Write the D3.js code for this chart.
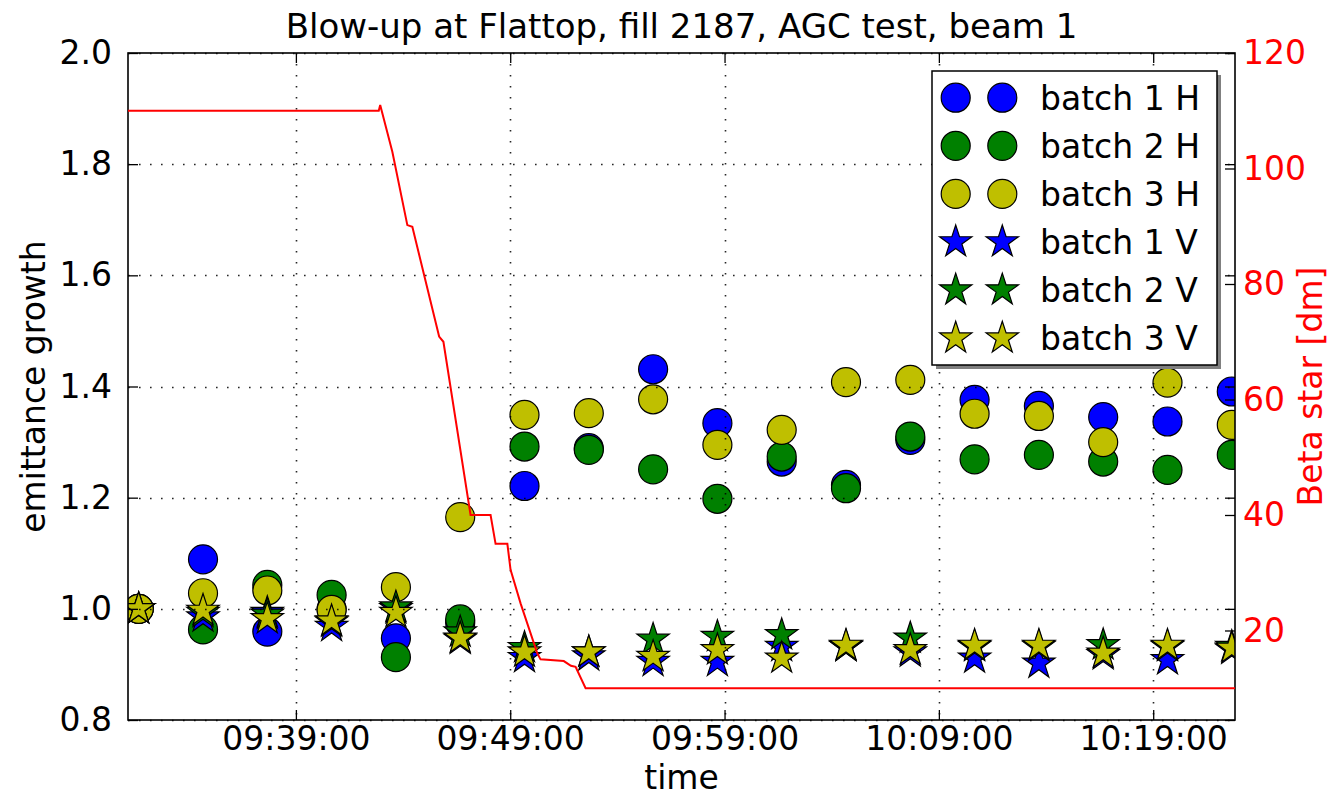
<!DOCTYPE html>
<html>
<head>
<meta charset="utf-8">
<script src="https://cdn.jsdelivr.net/npm/d3@7"></script>
<style>
  body { margin: 0; background: #fff; }
  svg { display: block; }
  text { font-family: "DejaVu Sans", sans-serif; }
</style>
</head>
<body>
<svg id="chart" width="1331" height="797"></svg>
<script>
// ---- data -------------------------------------------------------------
const sampleTimes = ["09:31:40", "09:34:40", "09:37:40", "09:40:40", "09:43:40", "09:46:40",
  "09:49:40", "09:52:40", "09:55:40", "09:58:40", "10:01:40", "10:04:40",
  "10:07:40", "10:10:40", "10:13:40", "10:16:40", "10:19:40", "10:22:40"];

const batch1H = [1.000, 1.089, 0.959, 1.000, 0.947, 0.975, 1.221, 1.289, 1.431, 1.334, 1.265, 1.223, 1.304, 1.376, 1.365, 1.345, 1.337, 1.391];
const batch2H = [1.000, 0.963, 1.043, 1.025, 0.913, 0.981, 1.292, 1.286, 1.251, 1.198, 1.274, 1.217, 1.310, 1.269, 1.277, 1.265, 1.250, 1.277];
const batch3H = [1.000, 1.028, 1.033, 0.998, 1.039, 1.165, 1.349, 1.352, 1.377, 1.295, 1.322, 1.408, 1.412, 1.351, 1.347, 1.300, 1.407, 1.331];
const batch1V = [1.000, 0.985, 0.993, 0.968, 1.000, 0.945, 0.912, 0.915, 0.905, 0.905, 0.932, 0.932, 0.922, 0.911, 0.902, 0.917, 0.908, 0.927];
const batch2V = [1.000, 0.993, 0.990, 0.976, 1.003, 0.958, 0.930, 0.922, 0.945, 0.950, 0.953, 0.932, 0.947, 0.932, 0.932, 0.935, 0.932, 0.932];
const batch3V = [1.000, 0.997, 0.982, 0.978, 0.993, 0.947, 0.922, 0.922, 0.914, 0.926, 0.911, 0.934, 0.926, 0.934, 0.934, 0.920, 0.934, 0.929];

const seriesNames = ["batch 1 H", "batch 2 H", "batch 3 H", "batch 1 V", "batch 2 V", "batch 3 V"];

// beta* during the squeeze, in dm
const betaTimes = ["09:31:10", "09:42:52", "09:42:56", "09:43:30", "09:44:12", "09:44:26",
  "09:45:41", "09:45:53", "09:47:09", "09:48:05", "09:48:19", "09:48:52", "09:49:01",
  "09:49:29", "09:50:16", "09:50:25", "09:51:30", "09:51:50", "09:52:03", "09:52:31", "10:22:49"];
const betaStar = [110, 110, 111, 102.9, 90.2, 89.9, 70.9, 70, 40, 40, 35, 35, 30.5,
  24.7, 16, 15, 14.7, 13.9, 13.7, 10, 10];

const timeTicks = ["09:39:00", "09:49:00", "09:59:00", "10:09:00", "10:19:00"];
const emitTicks = [0.8, 1.0, 1.2, 1.4, 1.6, 1.8, 2.0];
const betaTicks = [20, 40, 60, 80, 100, 120];

// ---- layout -----------------------------------------------------------
const plot = { left: 128, right: 1235, top: 53, bottom: 720 };
const FONT = 33;

const parseT = d3.utcParse("%H:%M:%S");
const fmtT = d3.utcFormat("%H:%M:%S");

const svg = d3.select("#chart");

const x = d3.scaleUtc()
  .domain(d3.extent(betaTimes, parseT))
  .range([plot.left, plot.right]);
const y = d3.scaleLinear().domain([0.8, 2.0]).range([plot.bottom, plot.top]);
const y2 = d3.scaleLinear().domain([4.5, 120]).range([plot.bottom, plot.top]);

svg.append("defs").append("clipPath").attr("id", "plotClip")
  .append("rect")
  .attr("x", plot.left).attr("y", plot.top)
  .attr("width", plot.right - plot.left).attr("height", plot.bottom - plot.top);

// five-pointed star marker with outer radius R (inner ratio as the classic '*' marker)
function starPath(R) {
  const inner = R * 0.381966;
  const pts = [];
  for (let i = 0; i < 10; i++) {
    const r = i % 2 === 0 ? R : inner;
    const a = -Math.PI / 2 + i * Math.PI / 5;
    pts.push([r * Math.cos(a), r * Math.sin(a)]);
  }
  return "M" + pts.map(p => p[0].toFixed(2) + "," + p[1].toFixed(2)).join("L") + "Z";
}

const blue = "#0000ff", green = "#008000", yellow = "#bfbf00";
const series = [
  { name: seriesNames[0], values: batch1H, color: blue, shape: "circle" },
  { name: seriesNames[1], values: batch2H, color: green, shape: "circle" },
  { name: seriesNames[2], values: batch3H, color: yellow, shape: "circle" },
  { name: seriesNames[3], values: batch1V, color: blue, shape: "star" },
  { name: seriesNames[4], values: batch2V, color: green, shape: "star" },
  { name: seriesNames[5], values: batch3V, color: yellow, shape: "star" }
];
const CIRCLE_R = 14.5, STAR_R = 17;
const star = starPath(STAR_R);

function drawMarker(g, shape, color, cx, cy) {
  if (shape === "circle") {
    g.append("circle").attr("cx", cx).attr("cy", cy).attr("r", CIRCLE_R)
      .attr("fill", color).attr("stroke", "#000").attr("stroke-width", 1.2);
  } else {
    g.append("path").attr("d", star).attr("transform", `translate(${cx},${cy})`)
      .attr("fill", color).attr("stroke", "#000").attr("stroke-width", 1.2)
      .attr("stroke-linejoin", "miter");
  }
}

// ---- emittance markers ------------------------------------------------
const marks = svg.append("g").attr("clip-path", "url(#plotClip)");
series.forEach(s => {
  const g = marks.append("g");
  s.values.forEach((v, i) => drawMarker(g, s.shape, s.color, x(parseT(sampleTimes[i])), y(v)));
});

// ---- grid (drawn above the markers) -----------------------------------
const grid = svg.append("g").attr("stroke", "#000").attr("stroke-opacity", 0.85)
  .attr("stroke-width", 1.6).attr("stroke-dasharray", "1.6,9.4");
timeTicks.forEach(t => {
  const xx = Math.round(x(parseT(t))) + 0.5;
  grid.append("line").attr("x1", xx).attr("x2", xx).attr("y1", plot.top).attr("y2", plot.bottom);
});
emitTicks.forEach(v => {
  const yy = Math.round(y(v)) + 0.5;
  grid.append("line").attr("x1", plot.left).attr("x2", plot.right).attr("y1", yy).attr("y2", yy);
});

// ---- axes -------------------------------------------------------------
const TICK = 10;
const axisBottom = d3.axisBottom(x).tickValues(timeTicks.map(parseT)).tickFormat(fmtT)
  .tickSizeInner(-TICK).tickSizeOuter(0).tickPadding(7);
const axisTop = d3.axisTop(x).tickValues(timeTicks.map(parseT)).tickFormat("")
  .tickSizeInner(-TICK).tickSizeOuter(0);
const axisLeft = d3.axisLeft(y).tickValues(emitTicks).tickFormat(d3.format(".1f"))
  .tickSizeInner(-TICK).tickSizeOuter(0).tickPadding(16);
const axisRightL = d3.axisRight(y).tickValues(emitTicks).tickFormat("")
  .tickSizeInner(-TICK).tickSizeOuter(0);
const axisRight = d3.axisRight(y2).tickValues(betaTicks).tickFormat(d3.format("d"))
  .tickSizeInner(-TICK).tickSizeOuter(0).tickPadding(8);

function styleAxis(g, color) {
  g.select(".domain").remove();
  g.selectAll(".tick line").attr("stroke", "#000").attr("stroke-width", 1.3);
  g.selectAll(".tick text").attr("font-size", FONT).attr("fill", color)
    .attr("font-family", "DejaVu Sans, sans-serif");
}

svg.append("g").attr("transform", `translate(0,${plot.bottom})`).call(axisBottom)
  .call(g => styleAxis(g, "#000"));
svg.append("g").attr("transform", `translate(0,${plot.top})`).call(axisTop)
  .call(g => styleAxis(g, "#000"));
svg.append("g").attr("transform", `translate(${plot.left},0)`).call(axisLeft)
  .call(g => styleAxis(g, "#000"));
svg.append("g").attr("transform", `translate(${plot.right},0)`).call(axisRightL)
  .call(g => styleAxis(g, "#000"));

// frame
svg.append("rect")
  .attr("x", plot.left).attr("y", plot.top)
  .attr("width", plot.right - plot.left).attr("height", plot.bottom - plot.top)
  .attr("fill", "none").attr("stroke", "#000").attr("stroke-width", 1.6);

// ---- legend -----------------------------------------------------------
const leg = { x: 932, y: 71, w: 285, h: 294, row: 48.1, first: 97.7 };
const lg = svg.append("g");
lg.append("rect").attr("x", leg.x + 4).attr("y", leg.y + 4).attr("width", leg.w).attr("height", leg.h)
  .attr("fill", "#808080");
lg.append("rect").attr("x", leg.x).attr("y", leg.y).attr("width", leg.w).attr("height", leg.h)
  .attr("fill", "#fff").attr("stroke", "#000").attr("stroke-width", 1.5);
series.forEach((s, i) => {
  const cy = leg.first + i * leg.row;
  drawMarker(lg, s.shape, s.color, 955.7, cy);
  drawMarker(lg, s.shape, s.color, 1002.3, cy);
  lg.append("text").attr("x", 1040).attr("y", cy + 12).attr("font-size", FONT)
    .attr("fill", "#000").text(s.name);
});

// ---- beta* trace on the secondary axis ---------------------------------
const line = d3.line().x((d, i) => x(parseT(betaTimes[i]))).y(d => y2(d));
svg.append("path").datum(betaStar)
  .attr("clip-path", "url(#plotClip)")
  .attr("d", line)
  .attr("fill", "none").attr("stroke", "#ff0000").attr("stroke-width", 2)
  .attr("stroke-linejoin", "miter");

svg.append("g").attr("transform", `translate(${plot.right},0)`).call(axisRight)
  .call(g => styleAxis(g, "#ff0000"));

// ---- titles -----------------------------------------------------------
svg.append("text").attr("x", (plot.left + plot.right) / 2).attr("y", 38)
  .attr("text-anchor", "middle").attr("font-size", 34).attr("fill", "#000")
  .text("Blow-up at Flattop, fill 2187, AGC test, beam 1");
svg.append("text").attr("x", (plot.left + plot.right) / 2).attr("y", 789)
  .attr("text-anchor", "middle").attr("font-size", FONT).attr("fill", "#000")
  .text("time");
svg.append("text")
  .attr("transform", `translate(45,${(plot.top + plot.bottom) / 2}) rotate(-90)`)
  .attr("text-anchor", "middle").attr("font-size", FONT).attr("fill", "#000")
  .text("emittance growth");
svg.append("text")
  .attr("transform", `translate(1322,${(plot.top + plot.bottom) / 2}) rotate(-90)`)
  .attr("text-anchor", "middle").attr("font-size", FONT).attr("fill", "#ff0000")
  .text("Beta star [dm]");
</script>
</body>
</html>
